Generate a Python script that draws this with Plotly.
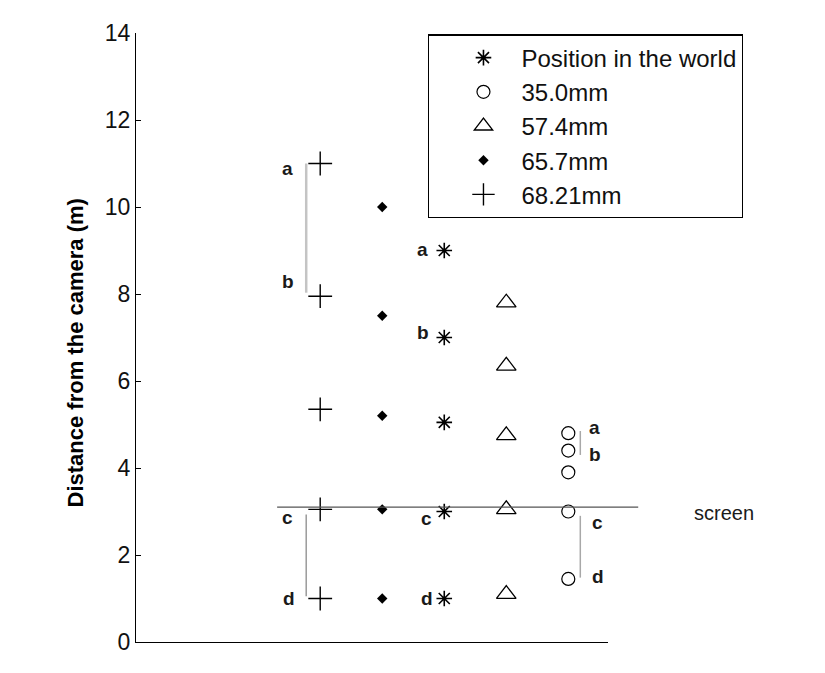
import plotly.graph_objects as go

# ---- data ----
columns = [3, 4, 5, 6, 7]  # horizontal slot of each series
series_names = ["Position in the world", "35.0mm", "57.4mm", "65.7mm", "68.21mm"]
world = [9.0, 7.0, 5.05, 3.0, 1.0]
mm35 = [4.8, 4.4, 3.9, 3.0, 1.45]
mm574 = [7.8, 6.35, 4.75, 3.05, 1.1]
mm657 = [10.0, 7.5, 5.2, 3.05, 1.0]
mm6821 = [11.0, 7.95, 5.35, 3.05, 1.0]
yticks = [0, 2, 4, 6, 8, 10, 12, 14]
screen_distance = 3.1

# column of each series
col_6821, col_657, col_world, col_574, col_35 = columns

fig = go.Figure()

def add(name, x, ys, symbol, size, lw=1.3):
    fig.add_trace(go.Scatter(
        x=[x] * len(ys), y=ys, mode="markers", name=name,
        legendgroup=name,
        marker=dict(symbol=symbol, size=size, color="black",
                    line=dict(color="black", width=lw)),
        cliponaxis=False,
    ))

add(series_names[0], col_world, world, "asterisk-open", 13, 1.6)
add(series_names[1], col_35, mm35, "circle-open", 13, 1.2)
add(series_names[2], col_574, mm574, "triangle-up-open", 17, 1.3)
add(series_names[3], col_657, mm657, "diamond", 8, 0)
add(series_names[4], col_6821, mm6821, "cross-thin-open", 17, 1.4)

# ---- brackets (column, y_top, y_bottom, pixel offset, colour, width) ----
brackets = [
    (col_6821, mm6821[0], mm6821[1] + 0.08, -14, "#c4c4c4", 2.5),
    (col_6821, mm6821[3] - 0.12, mm6821[4] + 0.05, -14, "#9a9a9a", 1.5),
    (col_35, mm35[0] + 0.05, mm35[1] - 0.1, 12, "#a8a8a8", 1.5),
    (col_35, mm35[3] - 0.1, mm35[4] + 0.03, 12, "#a8a8a8", 1.5),
]
shapes = []
for cx, yt, yb, off, colr, w in brackets:
    shapes.append(dict(type="line", xref="x", yref="y", xsizemode="pixel",
                       xanchor=cx, x0=off, x1=off, y0=yb, y1=yt,
                       line=dict(color=colr, width=w)))
# screen line
shapes.append(dict(type="line", xref="paper", yref="y", x0=0.299, x1=1.064,
                   y0=screen_distance, y1=screen_distance,
                   line=dict(color="#555555", width=1.3)))

# ---- letter labels (text, column, y, xshift, yshift) ----
letters = [
    ("a", col_6821, mm6821[0], -33, -5),
    ("b", col_6821, mm6821[1], -32, 15),
    ("c", col_6821, mm6821[3], -33, -8),
    ("d", col_6821, mm6821[4], -31, 0),
    ("a", col_world, world[0], -22, 1),
    ("b", col_world, world[1], -21, 5),
    ("c", col_world, world[3], -18, -7),
    ("d", col_world, world[4], -17, 0),
    ("a", col_35, mm35[0], 26, 6),
    ("b", col_35, mm35[1], 27, -4),
    ("c", col_35, mm35[3], 29, -11),
    ("d", col_35, mm35[4], 30, 2),
]
annotations = []
for t, cx, cy, xs, ys in letters:
    annotations.append(dict(text=t, x=cx, y=cy, xref="x", yref="y",
                            xshift=xs, yshift=ys, showarrow=False,
                            font=dict(family="Liberation Sans, Arial", size=19,
                                      color="#1a1a1a", weight="bold")))
annotations.append(dict(text="screen", xref="paper", yref="y", x=1.246,
                        xanchor="center", y=screen_distance, yshift=-6,
                        showarrow=False,
                        font=dict(family="Liberation Sans, Arial", size=20,
                                  color="#1a1a1a")))
annotations.append(dict(text="<b>Distance from the camera (m)</b>", xref="paper",
                        yref="paper", x=-0.129, xanchor="center", y=0.474,
                        yanchor="middle", textangle=-90, showarrow=False,
                        font=dict(family="Liberation Sans, Arial",
                                  size=22, color="black")))

fig.update_layout(
    width=817, height=665,
    margin=dict(l=128, r=217, t=14, b=31),
    paper_bgcolor="white", plot_bgcolor="white",
    showlegend=True,
    legend=dict(x=0.619, y=0.998, xanchor="left", yanchor="top",
                bgcolor="white", bordercolor="black", borderwidth=1.3,
                font=dict(family="Liberation Sans, Arial", size=24, color="#111"),
                traceorder="grouped", tracegroupgap=0, indentation=16,
                itemwidth=66),
    shapes=shapes, annotations=annotations,
    font=dict(family="Liberation Sans, Arial"),
)
fig.update_xaxes(range=[0.03, 7.64], showgrid=False, zeroline=False,
                 showticklabels=False, ticks="", showline=True,
                 linecolor="black", linewidth=1.3)
fig.update_yaxes(range=[0, 14], tickvals=yticks, showgrid=False, zeroline=False,
                 showline=True, linecolor="black", linewidth=1.3,
                 ticks="inside", ticklen=5, tickcolor="black",
                 tickfont=dict(family="Liberation Sans, Arial", size=23, color="#111"))

fig.write_html("out.html")
